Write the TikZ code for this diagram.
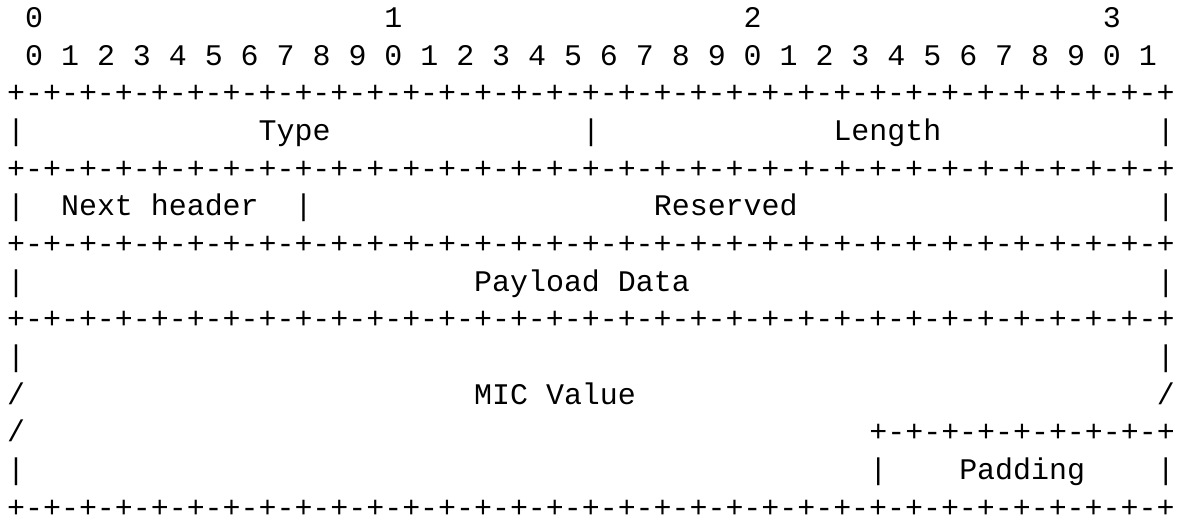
\documentclass[tikz,border=0pt]{standalone}
\usepackage{fontspec}
\newfontfamily\asciifont{Liberation Mono}
\newcommand\ruleseg{+-+-+-+-}
\newcommand\fullrule{\ruleseg\ruleseg\ruleseg\ruleseg\ruleseg\ruleseg\ruleseg\ruleseg+}
\newcommand\halfrule{\ruleseg\ruleseg+}
\tikzset{txt/.style={inner sep=0pt, outer sep=0pt, anchor=base west,
  font=\asciifont\fontsize{29.93pt}{36pt}\selectfont, text=black}}
% column, line -> position
\newcommand\putcell[4]{\node[txt] (#1) at ({7.2+17.963*(#2)},{27.6+37.65*((#3)-1)}) {#4};}
\begin{document}
\begin{tikzpicture}[x=1pt, y=-1pt]
\fill[white] (0,0) rectangle (1182,519);
\useasboundingbox (0,0) rectangle (1182,519);
% line 1: tens
\putcell{t0}{1}{1}{0}
\putcell{t1}{21}{1}{1}
\putcell{t2}{41}{1}{2}
\putcell{t3}{61}{1}{3}
% line 2: units
\foreach \i in {0,...,31}{
  \pgfmathtruncatemacro\d{mod(\i,10)}
  \putcell{d\i}{2*\i+1}{2}{\d}
}
% line 3
\putcell{r3}{0}{3}{\fullrule}
% line 4
\putcell{b4a}{0}{4}{|}
\putcell{type}{14}{4}{Type}
\putcell{b4b}{32}{4}{|}
\putcell{length}{46}{4}{Length}
\putcell{b4c}{64}{4}{|}
% line 5
\putcell{r5}{0}{5}{\fullrule}
% line 6
\putcell{b6a}{0}{6}{|}
\putcell{next}{3}{6}{Next header}
\putcell{b6b}{16}{6}{|}
\putcell{reserved}{36}{6}{Reserved}
\putcell{b6c}{64}{6}{|}
% line 7
\putcell{r7}{0}{7}{\fullrule}
% line 8
\putcell{b8a}{0}{8}{|}
\putcell{payload}{26}{8}{Payload Data}
\putcell{b8b}{64}{8}{|}
% line 9
\putcell{r9}{0}{9}{\fullrule}
% line 10
\putcell{b10a}{0}{10}{|}
\putcell{b10b}{64}{10}{|}
% line 11
\putcell{s11a}{0}{11}{/}
\putcell{mic}{26}{11}{MIC Value}
\putcell{s11b}{64}{11}{/}
% line 12
\putcell{s12a}{0}{12}{/}
\putcell{r12}{48}{12}{\halfrule}
% line 13
\putcell{b13a}{0}{13}{|}
\putcell{b13b}{48}{13}{|}
\putcell{padding}{53}{13}{Padding}
\putcell{b13c}{64}{13}{|}
% line 14
\putcell{r14}{0}{14}{\fullrule}
\end{tikzpicture}
\end{document}
